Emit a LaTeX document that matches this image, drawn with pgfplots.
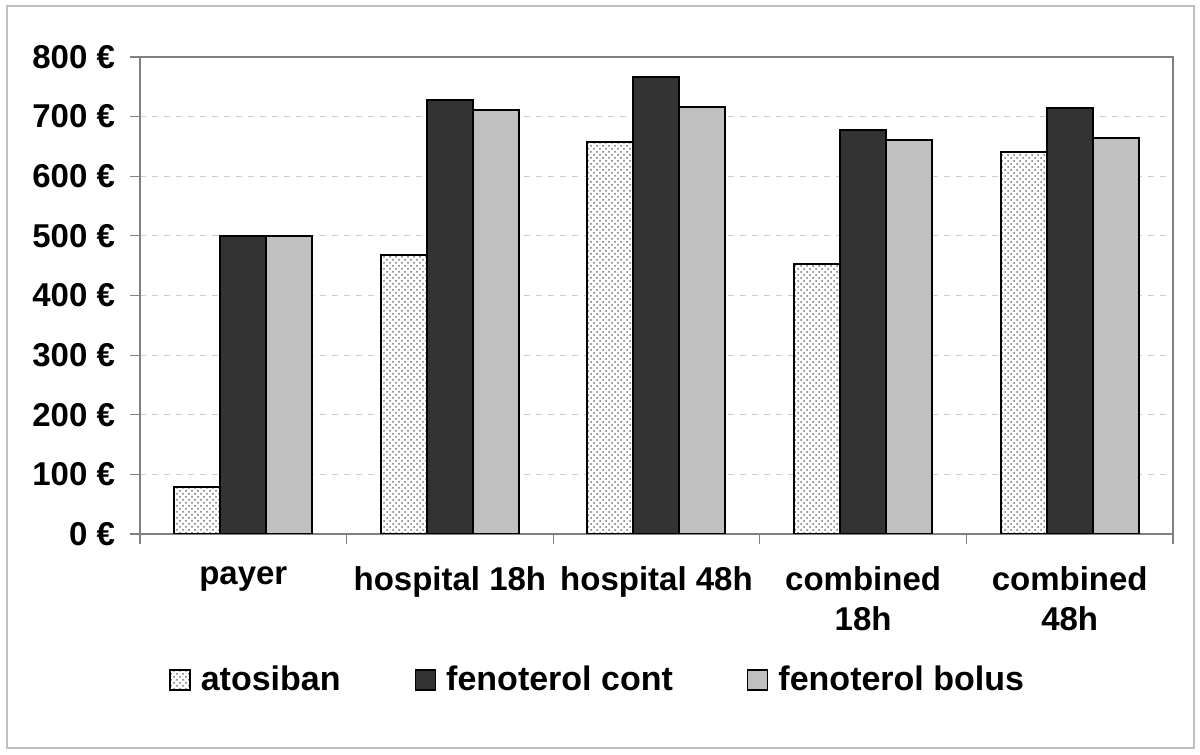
\documentclass[border=0pt]{standalone}
\usepackage{fontspec}
\setmainfont{Liberation Sans}
\usepackage{pgfplots}
\pgfplotsset{compat=1.18}
\usetikzlibrary{patterns}
\definecolor{cont}{HTML}{333333}
\definecolor{bolus}{HTML}{C0C0C0}
\definecolor{framegray}{HTML}{808080}
\begin{document}
\begin{tikzpicture}
\useasboundingbox (-70pt,-110.5pt) rectangle (530pt,267pt);
\draw[black!25, line width=0.8pt] (-66.5pt,-107pt) rectangle (527pt,264pt);
\begin{axis}[
  at={(0pt,0pt)}, anchor=south west,
  scale only axis,
  width=516.5pt, height=238.5pt,
  ybar=0pt, bar width=23pt,
  xmin=-0.5, xmax=4.5,
  ymin=0, ymax=800,
  xtick={-0.5,0.5,1.5,2.5,3.5,4.5},
  x tick label as interval,
  xticklabels={payer,hospital 18h,hospital 48h,{combined\\18h},{combined\\48h}},
  ytick={0,100,...,800},
  yticklabels={0 €,100 €,200 €,300 €,400 €,500 €,600 €,700 €,800 €},
  tick align=outside,
  xtick pos=bottom, ytick pos=left,
  major tick length=5pt,
  tick style={framegray, line width=0.6pt},
  axis line style={framegray, line width=0.9pt},
  ymajorgrids,
  major grid style={dashed, black!20, line width=0.5pt},
  ticklabel style={font=\bfseries\fontsize{16.5}{20}\selectfont},
  xticklabel style={align=center, yshift=-8pt},
  yticklabel style={xshift=-4pt},
  legend style={draw=none, at={(0.444,-0.306)}, anchor=center,
    font=\bfseries\fontsize{17}{20}\selectfont,
    /tikz/every odd column/.append style={column sep=3pt},
    /tikz/every even column/.append style={column sep=35pt}},
  legend columns=3,
  legend image code/.code={\draw[#1, line width=0.8pt] (0pt,-5pt) rectangle (10pt,5pt);},
  every axis plot/.append style={draw=black, line width=1pt},
]
\addplot[fill=white, postaction={pattern=crosshatch dots, pattern color=black!55}] coordinates {(0,79) (1,468) (2,658) (3,453) (4,641)};
\addplot[fill=cont] coordinates {(0,500) (1,728) (2,767) (3,678) (4,715)};
\addplot[fill=bolus] coordinates {(0,500) (1,711) (2,716) (3,661) (4,664)};
\legend{atosiban,fenoterol cont,fenoterol bolus}
\end{axis}
\end{tikzpicture}
\end{document}
